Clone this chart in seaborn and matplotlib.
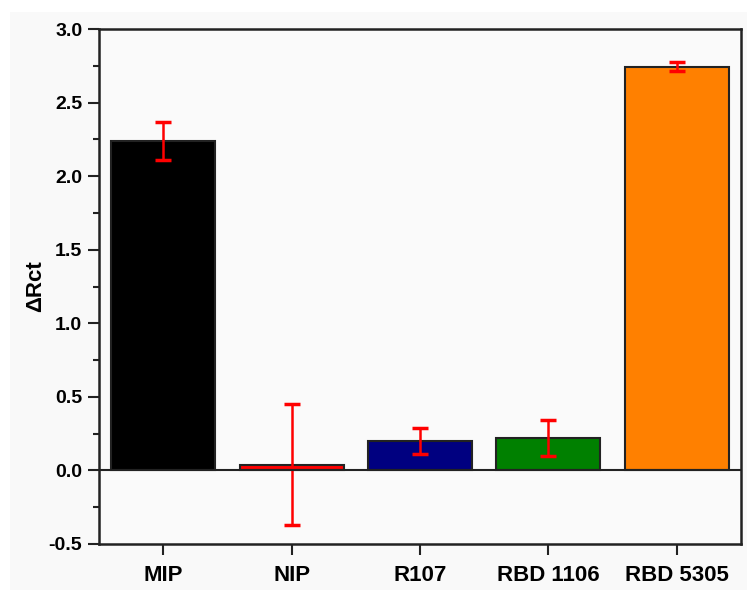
import matplotlib
matplotlib.use("Agg")
import matplotlib.pyplot as plt
import matplotlib.patches as mpatches
from matplotlib.ticker import MultipleLocator
import seaborn as sns
import pandas as pd

categories = ["MIP", "NIP", "R107", "RBD 1106", "RBD 5305"]
values = [2.24, 0.04, 0.20, 0.22, 2.745]
errors = [0.13, 0.41, 0.086, 0.12, 0.033]
colors = ["#000000", "#ff0000", "#000080", "#008000", "#ff8000"]
y_ticks = [-0.5, 0.0, 0.5, 1.0, 1.5, 2.0, 2.5, 3.0]

sns.set_theme(style="white")
plt.rcParams["font.family"] = ["Liberation Sans", "DejaVu Sans"]
plt.rcParams["text.color"] = "black"
plt.rcParams["axes.labelcolor"] = "black"
plt.rcParams["xtick.color"] = "#222222"
plt.rcParams["ytick.color"] = "#222222"
plt.rcParams["xtick.labelcolor"] = "black"
plt.rcParams["ytick.labelcolor"] = "black"

df = pd.DataFrame({"cat": categories, "val": values})

fig = plt.figure(figsize=(7.47, 5.90), dpi=100)
fig.patch.set_facecolor("white")
fig.patches.append(mpatches.Rectangle((10 / 747, 0), 1, 1 - 12 / 590,
                                      transform=fig.transFigure,
                                      facecolor="#f9f9f9", edgecolor="none", zorder=-10))
ax = fig.add_axes([99 / 747, 1 - 544 / 590, (741 - 99) / 747, (544 - 29) / 590])
ax.set_facecolor("#fafafa")

sns.barplot(data=df, x="cat", y="val", hue="cat", palette=colors, order=categories,
            hue_order=categories, width=0.81, edgecolor="#222222", linewidth=1.5,
            saturation=1, legend=False, ax=ax, zorder=2)
ax.errorbar(range(len(categories)), values, yerr=errors, fmt="none",
            ecolor="#ff0000", elinewidth=1.8, capsize=6, capthick=2.5, zorder=3)
ax.axhline(0, color="#222222", linewidth=1.5, zorder=4)

ax.set_xlim(-0.5, 4.5)
ax.set_ylim(-0.5, 3.0)
ax.set_yticks(y_ticks)
ax.set_yticklabels([f"{t:.1f}" for t in y_ticks], fontsize=14, fontweight="bold")
ax.yaxis.set_minor_locator(MultipleLocator(0.25))
ax.set_xticks(range(len(categories)))
ax.set_xticklabels(categories, fontsize=16, fontweight="bold")
ax.tick_params(axis="y", which="major", direction="out", length=8, width=1.5, left=True, pad=4)
ax.tick_params(axis="y", which="minor", direction="out", length=4, width=1.5, left=True)
ax.tick_params(axis="x", which="major", direction="out", length=8, width=1.5, bottom=True, pad=7)
for s in ax.spines.values():
    s.set_linewidth(1.8)
    s.set_color("#222222")
ax.set_xlabel("")
ax.set_ylabel("ΔRct", fontsize=16, fontweight="bold", labelpad=2)

fig.savefig("out.png", dpi=100, facecolor=fig.get_facecolor())
